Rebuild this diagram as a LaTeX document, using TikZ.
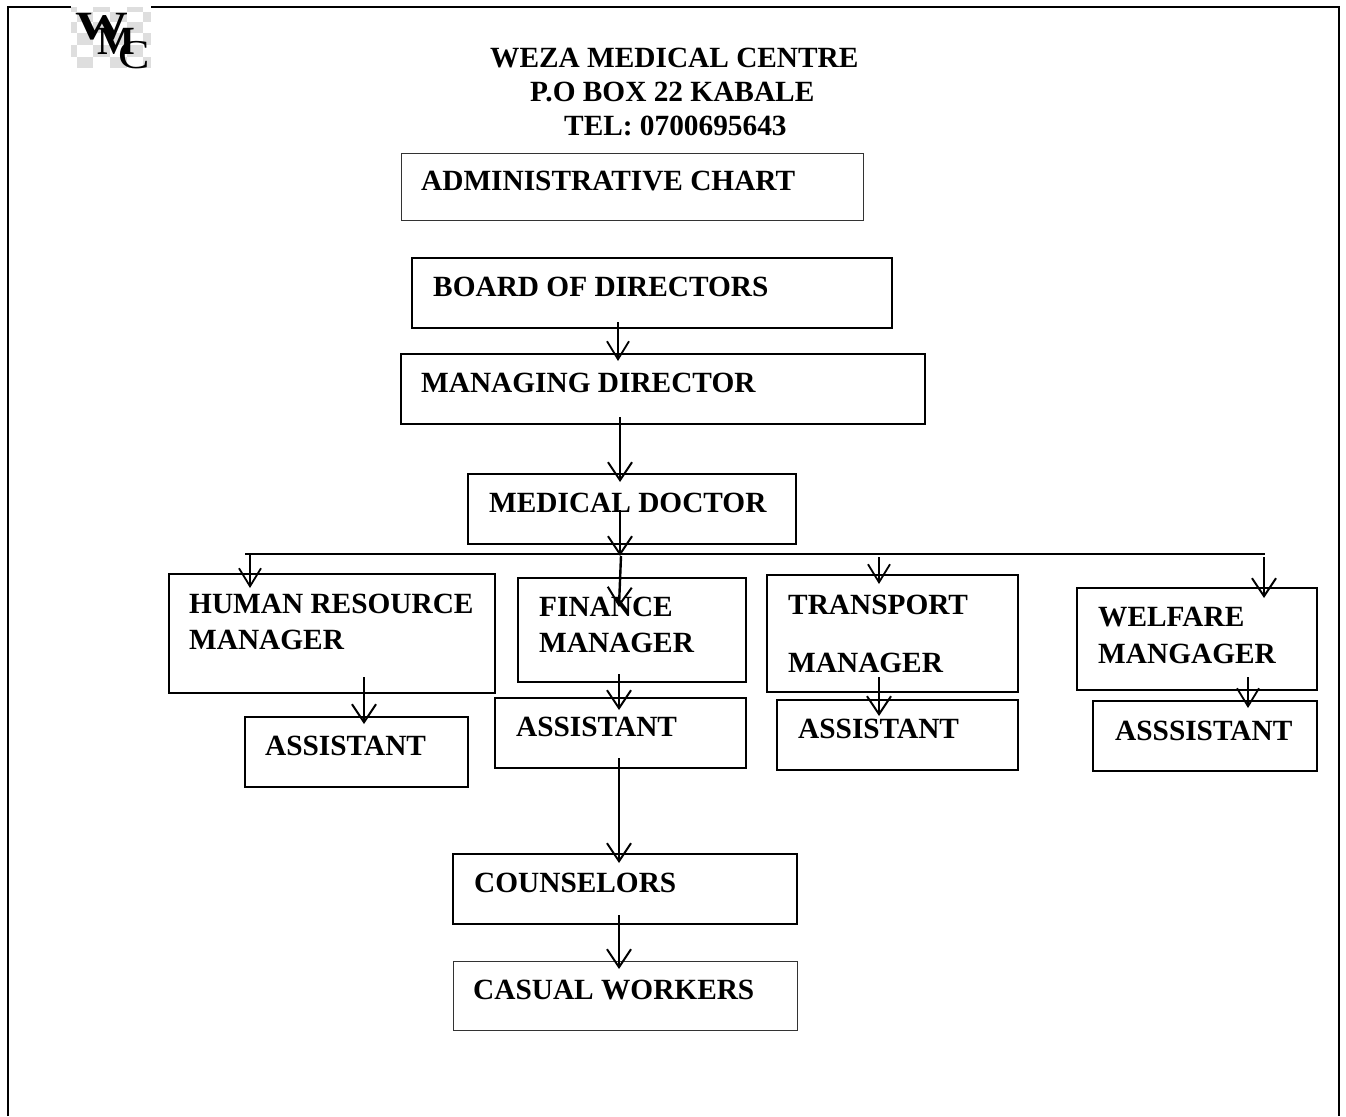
\documentclass[tikz,border=0pt]{standalone}
\usepackage{fontspec}
\setmainfont{Liberation Serif}
\usetikzlibrary{arrows.meta}
\tikzset{
  boxthick/.style={draw=black,line width=1.6pt,fill=none},
  boxthin/.style={draw=black!80,line width=1pt,fill=none},
  lbl/.style={anchor=base west,inner sep=0pt,yshift=1pt,font=\fontsize{29.33}{32}\selectfont\bfseries},
  arr/.style={draw=black,line width=2.4pt,-{Straight Barb[length=18pt,width=24pt,line width=2pt]},shorten >=-1pt},
  arrthin/.style={draw=black,line width=1.8pt,-{Straight Barb[length=18pt,width=22pt,line width=1.8pt]},shorten >=-1pt},
  bar/.style={draw=black,line width=1.1pt},
  frameline/.style={draw=black,line width=2pt},
  chk/.style={fill=black!13,draw=none},
  logo/.style={inner sep=0pt,anchor=base west,text=black},
}
\newcommand{\bx}[6]{\node[#1,anchor=north west,inner sep=0pt,outer sep=0pt,minimum width=#4pt-#2pt,minimum height=#5pt-#3pt] (#6) at (#2,#3) {};}
\begin{document}
\begin{tikzpicture}[x=1pt,y=-1pt]
\useasboundingbox (0,0) rectangle (1346,1116);
% frame
\draw[frameline] (8,1116) -- (8,7) -- (1339,7) -- (1339,1116);
% logo
\fill[white] (71,6) rectangle (151,68.3);
\foreach \ya/\yb in {7/11.7,22.3/33.3,45/56.7}{
  \foreach \xa/\xb in {71/76.7,93.3/110,126.7/143.3}{
    \fill[chk] (\xa,\ya) rectangle (\xb,\yb);
  }
}
\foreach \ya/\yb in {11.7/22.3,33.3/45,56.7/68.3}{
  \foreach \xa/\xb in {76.7/93.3,110/126.7,143.3/151}{
    \fill[chk] (\xa,\ya) rectangle (\xb,\yb);
  }
}
\node[logo,font=\fontsize{40}{40}\selectfont\bfseries] (logoW) at (75,40) {\scalebox{1.32}[1]{W}};
\node[logo,font=\fontsize{40}{40}\selectfont\bfseries] (logoM) at (97,55) {M};
\node[logo,font=\fontsize{41}{41}\selectfont] (logoC) at (118,68) {\scalebox{1.15}[1]{C}};
% title
\node[lbl] (t1) at (490,68) {WEZA MEDICAL CENTRE};
\node[lbl] (t2) at (530,102) {P.O BOX 22 KABALE};
\node[lbl] (t3) at (564,136) {TEL: 0700695643};
% boxes
\bx{boxthin}{401}{153}{863}{220}{admin}
\bx{boxthick}{412}{258}{892}{328}{board}
\bx{boxthick}{401}{354}{925}{424}{md}
\bx{boxthick}{468}{474}{796}{544}{med}
\bx{boxthick}{169}{574}{495}{693}{hr}
\bx{boxthick}{518}{578}{746}{682}{fin}
\bx{boxthick}{767}{575}{1018}{692}{trans}
\bx{boxthick}{1077}{588}{1317}{690}{welf}
\bx{boxthick}{245}{717}{468}{787}{asa}
\bx{boxthick}{495}{698}{746}{768}{asb}
\bx{boxthick}{777}{700}{1018}{770}{asc}
\bx{boxthick}{1093}{701}{1317}{771}{asd}
\bx{boxthick}{453}{854}{797}{924}{couns}
\bx{boxthin}{453}{961}{797}{1030}{casual}
% labels
\node[lbl] (ladmin) at (421,191) {ADMINISTRATIVE CHART};
\node[lbl] (lboard) at (433,297) {BOARD OF DIRECTORS};
\node[lbl] (lmd) at (421,393) {MANAGING DIRECTOR};
\node[lbl] (lmed) at (489,513) {MEDICAL DOCTOR};
\node[lbl] (lhra) at (189,614) {HUMAN RESOURCE};
\node[lbl] (lhrb) at (189,650) {MANAGER};
\node[lbl] (lfina) at (539,617) {FINANCE};
\node[lbl] (lfinb) at (539,653) {MANAGER};
\node[lbl] (ltra) at (788,615) {TRANSPORT};
\node[lbl] (ltrb) at (788,673) {MANAGER};
\node[lbl] (lwea) at (1098,627) {WELFARE};
\node[lbl] (lweb) at (1098,664) {MANGAGER};
\node[lbl] (lasa) at (265,756) {ASSISTANT};
\node[lbl] (lasb) at (516,737) {ASSISTANT};
\node[lbl] (lasc) at (798,739) {ASSISTANT};
\node[lbl] (lasd) at (1115,741) {ASSSISTANT};
\node[lbl] (lcouns) at (474,893) {COUNSELORS};
\node[lbl] (lcasual) at (473,1000) {CASUAL WORKERS};
% connector ends
\coordinate (barL) at (245,554);
\coordinate (barR) at (1265,554);
\coordinate (a1s) at (618,322); \coordinate (a1e) at (618,360);
\coordinate (a2s) at (620,417); \coordinate (a2e) at (620,481);
\coordinate (a3s) at (620,510); \coordinate (a3e) at (620,555);
\coordinate (b1s) at (250,555); \coordinate (b1e) at (250,587);
\coordinate (b2s) at (621,556); \coordinate (b2e) at (619,606);
\coordinate (b3s) at (879,557); \coordinate (b3e) at (879,583);
\coordinate (b4s) at (1264,557); \coordinate (b4e) at (1264,597);
\coordinate (c1s) at (364,677); \coordinate (c1e) at (364,723);
\coordinate (c2s) at (619,674); \coordinate (c2e) at (619,709);
\coordinate (c3s) at (879,677); \coordinate (c3e) at (879,715);
\coordinate (c4s) at (1248,677); \coordinate (c4e) at (1248,707);
\coordinate (d1s) at (619,758); \coordinate (d1e) at (619,862);
\coordinate (d2s) at (619,915); \coordinate (d2e) at (619,968);
% connectors
\draw[bar] (barL) -- (barR);
\draw[arrthin] (a1s) -- (a1e);
\draw[arr] (a2s) -- (a2e);
\draw[arr] (a3s) -- (a3e);
\draw[arrthin] (b1s) -- (b1e);
\draw[arr] (b2s) -- (b2e);
\draw[arrthin] (b3s) -- (b3e);
\draw[arr] (b4s) -- (b4e);
\draw[arr] (c1s) -- (c1e);
\draw[arr] (c2s) -- (c2e);
\draw[arr] (c3s) -- (c3e);
\draw[arrthin] (c4s) -- (c4e);
\draw[arr] (d1s) -- (d1e);
\draw[arr] (d2s) -- (d2e);
\end{tikzpicture}
\end{document}
